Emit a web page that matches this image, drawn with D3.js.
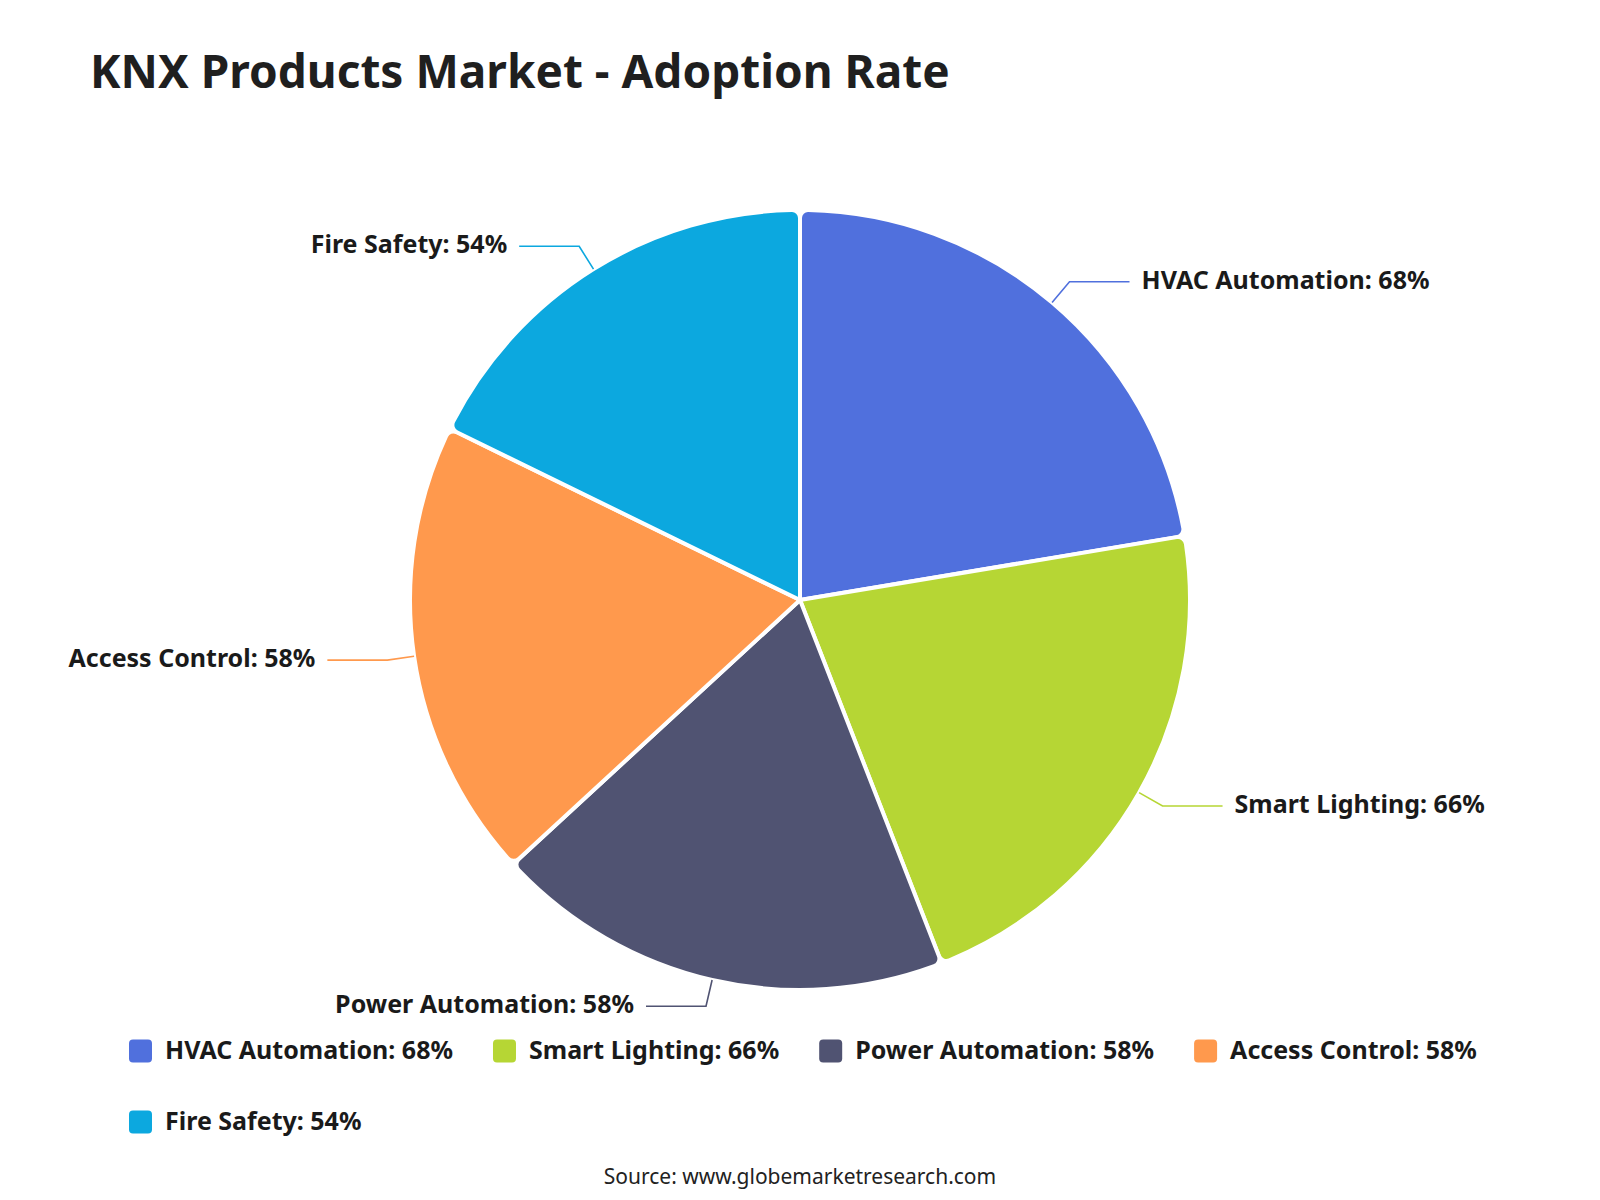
<!DOCTYPE html>
<html>
<head>
<meta charset="utf-8">
<script src="https://cdn.jsdelivr.net/npm/d3@7"></script>
<style>
  html, body { margin: 0; padding: 0; background: #fff; }
  svg text { font-family: "Noto Sans", "Open Sans", sans-serif; }
</style>
</head>
<body>
<div id="chart"></div>
<script>
// chart data
const categories = ["HVAC Automation", "Smart Lighting", "Power Automation", "Access Control", "Fire Safety"];
const adoption = [68, 66, 58, 58, 54];
const colors = ["#5070dd", "#b6d634", "#505372", "#ff994d", "#0ca8df"];

const titleText = "KNX Products Market - Adoption Rate";
const sourceText = "Source: www.globemarketresearch.com";

const W = 1600, H = 1200;
const cx = 800, cy = 600, R = 390;

const data = categories.map((c, i) => ({ name: c, value: adoption[i], color: colors[i] }));
const labelOf = d => `${d.name}: ${d.value}%`;

const svg = d3.select("#chart")
  .append("svg")
  .attr("width", W)
  .attr("height", H);

// title
svg.append("text")
  .attr("x", 90)
  .attr("y", 88)
  .attr("fill", "#1f1f1f")
  .attr("font-size", "46px")
  .attr("font-weight", 700)
  .text(titleText);

// pie
const pie = d3.pie().sort(null).value(d => d.value);
const arcs = pie(data);
const arc = d3.arc().innerRadius(0).outerRadius(R).cornerRadius(8);

const pieG = svg.append("g").attr("transform", `translate(${cx},${cy})`);

pieG.selectAll("path.slice")
  .data(arcs)
  .join("path")
  .attr("class", "slice")
  .attr("d", arc)
  .attr("fill", d => d.data.color)
  .attr("stroke", "#fff")
  .attr("stroke-width", 4)
  .attr("stroke-linejoin", "round");

// label lines + labels, echarts style: radial segment then horizontal
const len1 = 27, len2 = 60, textGap = 12;
arcs.forEach(d => {
  const mid = (d.startAngle + d.endAngle) / 2;
  const sx = Math.sin(mid), sy = -Math.cos(mid);
  const p0 = [sx * R, sy * R];
  const p1 = [sx * (R + len1), sy * (R + len1)];
  const right = sx >= 0;
  const p2 = [p1[0] + (right ? len2 : -len2), p1[1]];

  pieG.append("polyline")
    .attr("points", [p0, p1, p2].map(p => p.join(",")).join(" "))
    .attr("fill", "none")
    .attr("stroke", d.data.color)
    .attr("stroke-width", 1.6);

  pieG.append("text")
    .attr("x", p2[0] + (right ? textGap : -textGap))
    .attr("y", p2[1] - 3)
    .attr("text-anchor", right ? "start" : "end")
    .attr("dominant-baseline", "central")
    .attr("fill", "#1a1a1a")
    .attr("font-size", "25px")
    .attr("font-weight", 700)
    .text(labelOf(d.data));
});

// legend, flowing left to right and wrapping
const legendG = svg.append("g").attr("class", "legend");
const legendLeft = 129, legendRight = 1520, rowY0 = 1051, rowStep = 71;
const iconSize = 23, iconGap = 13, itemGap = 40;
let lx = legendLeft, ly = rowY0;
data.forEach(d => {
  const item = legendG.append("g");
  const t = item.append("text")
    .attr("x", iconSize + iconGap)
    .attr("y", -2)
    .attr("dominant-baseline", "central")
    .attr("fill", "#1a1a1a")
    .attr("font-size", "25px")
    .attr("font-weight", 700)
    .text(labelOf(d));
  const w = iconSize + iconGap + t.node().getComputedTextLength();
  if (lx > legendLeft && lx + w > legendRight) {
    lx = legendLeft;
    ly += rowStep;
  }
  item.append("rect")
    .attr("x", 0)
    .attr("y", -iconSize / 2)
    .attr("width", iconSize)
    .attr("height", iconSize)
    .attr("rx", 4)
    .attr("fill", d.color);
  item.attr("transform", `translate(${lx},${ly})`);
  lx += w + itemGap;
});

// source note
svg.append("text")
  .attr("x", 800)
  .attr("y", 1176)
  .attr("text-anchor", "middle")
  .attr("dominant-baseline", "central")
  .attr("fill", "#222")
  .attr("font-size", "21px")
  .text(sourceText);
</script>
</body>
</html>
